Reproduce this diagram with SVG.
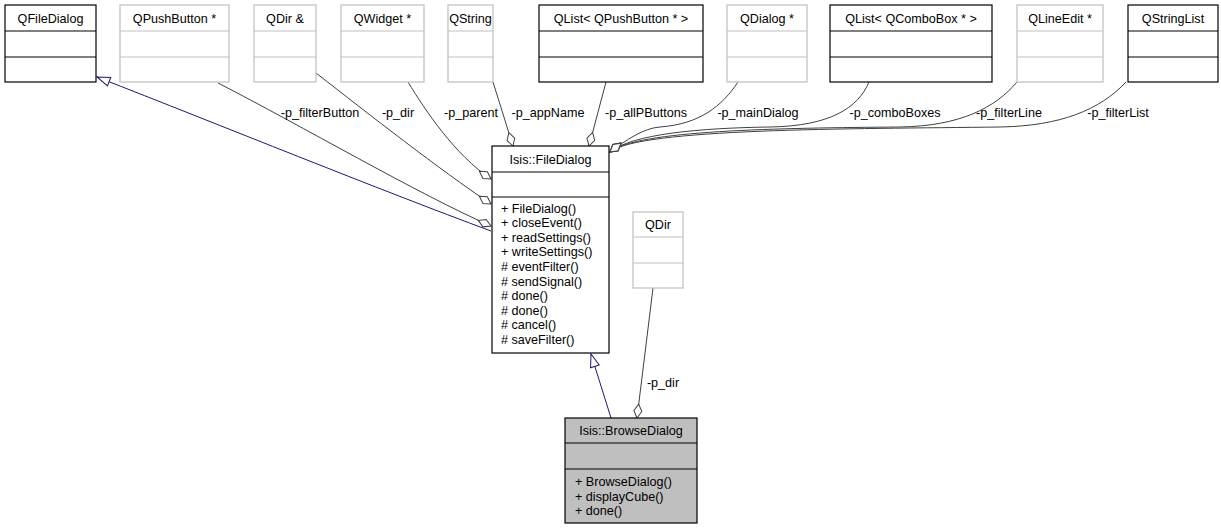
<svg xmlns="http://www.w3.org/2000/svg" width="1221" height="529" viewBox="0 0 1221 529">
<style>
text{font-family:"Liberation Sans",Arial,sans-serif;font-size:12.6px;fill:#000}
.c{text-anchor:middle}
.bk{fill:#fff;stroke:#000;stroke-width:1.2}
.gr{fill:#fff;stroke:#bfbfbf;stroke-width:1.2}
.sel{fill:#bfbfbf;stroke:#000;stroke-width:1.2}
.lb{stroke:#000;stroke-width:1.2}
.lg{stroke:#bfbfbf;stroke-width:1.2}
.agg{fill:none;stroke:#404040;stroke-width:1;marker-end:url(#dia)}
.inh{fill:none;stroke:#191970;stroke-width:1;marker-end:url(#tri)}
</style>
<defs>
<marker id="dia" viewBox="-1 -1 16 10" refX="14" refY="4" markerWidth="16" markerHeight="10" markerUnits="userSpaceOnUse" orient="auto">
<polygon points="0,4 7,0 14,4 7,8" fill="#fff" stroke="#404040" stroke-width="1"/>
</marker>
<marker id="tri" viewBox="-1 -1 15 11" refX="13" refY="4.5" markerWidth="15" markerHeight="11" markerUnits="userSpaceOnUse" orient="auto">
<polygon points="0,0 13,4.5 0,9" fill="#fff" stroke="#191970" stroke-width="1"/>
</marker>
</defs>
<g id="connectors">
<path class="inh" d="M 491 231 C 380 190, 220 125, 97 77"/>
<path class="agg" d="M 218 83 C 300 125, 420 195, 491 226"/>
<path class="agg" d="M 316 73 C 370 115, 440 170, 491 204"/>
<path class="agg" d="M 408 82 C 425 110, 455 155, 491 179"/>
<path class="agg" d="M 493 82 L 513 146"/>
<path class="agg" d="M 606 82 L 589 146"/>
<path class="agg" d="M 738 82 C 722 106, 700 124, 660 127 C 644 128, 626 140, 610 152"/>
<path class="agg" d="M 869 82 C 858 108, 830 126, 770 127 C 700 128, 632 134, 610 152"/>
<path class="agg" d="M 1017 82 C 995 108, 960 126, 900 127 C 780 128, 636 130, 610 152"/>
<path class="agg" d="M 1126 82 C 1100 110, 1060 126, 1000 127 C 850 129, 640 128, 610 152"/>
<path class="inh" d="M 611 418 L 591 354"/>
<path class="agg" d="M 653 288 L 637 418"/>
<text x="320" y="117" class="c">-p_filterButton</text>
<text x="398" y="117" class="c">-p_dir</text>
<text x="471" y="117" class="c">-p_parent</text>
<text x="548" y="117" class="c">-p_appName</text>
<text x="646" y="117" class="c">-p_allPButtons</text>
<text x="758" y="117" class="c">-p_mainDialog</text>
<text x="895" y="117" class="c">-p_comboBoxes</text>
<text x="1009" y="117" class="c">-p_filterLine</text>
<text x="1118" y="117" class="c">-p_filterList</text>
<text x="663" y="387" class="c">-p_dir</text>
</g>
<g id="QFileDialog">
<rect class="bk" x="5" y="5" width="91" height="77"/>
<line class="lb" x1="5" y1="31" x2="96" y2="31"/><line class="lb" x1="5" y1="57" x2="96" y2="57"/>
<text x="50.5" y="22.5" class="c">QFileDialog</text>
</g>
<g id="QPushButtonPtr">
<rect class="gr" x="120" y="5" width="109" height="77"/>
<line class="lg" x1="120" y1="31" x2="229" y2="31"/><line class="lg" x1="120" y1="57" x2="229" y2="57"/>
<text x="174.5" y="22.5" class="c">QPushButton *</text>
</g>
<g id="QDirRef">
<rect class="gr" x="254" y="5" width="62" height="77"/>
<line class="lg" x1="254" y1="31" x2="316" y2="31"/><line class="lg" x1="254" y1="57" x2="316" y2="57"/>
<text x="285" y="22.5" class="c">QDir &amp;</text>
</g>
<g id="QWidgetPtr">
<rect class="gr" x="341" y="5" width="83" height="77"/>
<line class="lg" x1="341" y1="31" x2="424" y2="31"/><line class="lg" x1="341" y1="57" x2="424" y2="57"/>
<text x="382.5" y="22.5" class="c">QWidget *</text>
</g>
<g id="QString">
<rect class="gr" x="448" y="5" width="45" height="77"/>
<line class="lg" x1="448" y1="31" x2="493" y2="31"/><line class="lg" x1="448" y1="57" x2="493" y2="57"/>
<text x="470.5" y="22.5" class="c">QString</text>
</g>
<g id="QListQPushButton">
<rect class="bk" x="539" y="5" width="164" height="77"/>
<line class="lb" x1="539" y1="31" x2="703" y2="31"/><line class="lb" x1="539" y1="57" x2="703" y2="57"/>
<text x="621" y="22.5" class="c">QList&lt; QPushButton * &gt;</text>
</g>
<g id="QDialogPtr">
<rect class="gr" x="727" y="5" width="80" height="77"/>
<line class="lg" x1="727" y1="31" x2="807" y2="31"/><line class="lg" x1="727" y1="57" x2="807" y2="57"/>
<text x="767" y="22.5" class="c">QDialog *</text>
</g>
<g id="QListQComboBox">
<rect class="bk" x="830" y="5" width="162" height="77"/>
<line class="lb" x1="830" y1="31" x2="992" y2="31"/><line class="lb" x1="830" y1="57" x2="992" y2="57"/>
<text x="911" y="22.5" class="c">QList&lt; QComboBox * &gt;</text>
</g>
<g id="QLineEditPtr">
<rect class="gr" x="1017" y="5" width="86" height="77"/>
<line class="lg" x1="1017" y1="31" x2="1103" y2="31"/><line class="lg" x1="1017" y1="57" x2="1103" y2="57"/>
<text x="1060" y="22.5" class="c">QLineEdit *</text>
</g>
<g id="QStringList">
<rect class="bk" x="1128" y="5" width="90" height="77"/>
<line class="lb" x1="1128" y1="31" x2="1218" y2="31"/><line class="lb" x1="1128" y1="57" x2="1218" y2="57"/>
<text x="1173" y="22.5" class="c">QStringList</text>
</g>
<g id="FileDialog">
<rect class="bk" x="492" y="146" width="117" height="207"/>
<line class="lb" x1="492" y1="172" x2="609" y2="172"/><line class="lb" x1="492" y1="197" x2="609" y2="197"/>
<text x="550.5" y="163.5" class="c">Isis::FileDialog</text>
<text x="501" y="212.5">+ FileDialog()</text>
<text x="501" y="227.1">+ closeEvent()</text>
<text x="501" y="241.7">+ readSettings()</text>
<text x="501" y="256.3">+ writeSettings()</text>
<text x="501" y="270.9"># eventFilter()</text>
<text x="501" y="285.5"># sendSignal()</text>
<text x="501" y="300.1"># done()</text>
<text x="501" y="314.7"># done()</text>
<text x="501" y="329.3"># cancel()</text>
<text x="501" y="343.9"># saveFilter()</text>
</g>
<g id="QDir">
<rect class="gr" x="633" y="212" width="50" height="76"/>
<line class="lg" x1="633" y1="237" x2="683" y2="237"/><line class="lg" x1="633" y1="263" x2="683" y2="263"/>
<text x="658" y="229" class="c">QDir</text>
</g>
<g id="BrowseDialog">
<rect class="sel" x="565" y="418" width="132" height="105"/>
<line class="lb" x1="565" y1="443" x2="697" y2="443"/><line class="lb" x1="565" y1="469" x2="697" y2="469"/>
<text x="631" y="435" class="c">Isis::BrowseDialog</text>
<text x="575" y="486">+ BrowseDialog()</text>
<text x="575" y="500.5">+ displayCube()</text>
<text x="575" y="515">+ done()</text>
</g>
</svg>
